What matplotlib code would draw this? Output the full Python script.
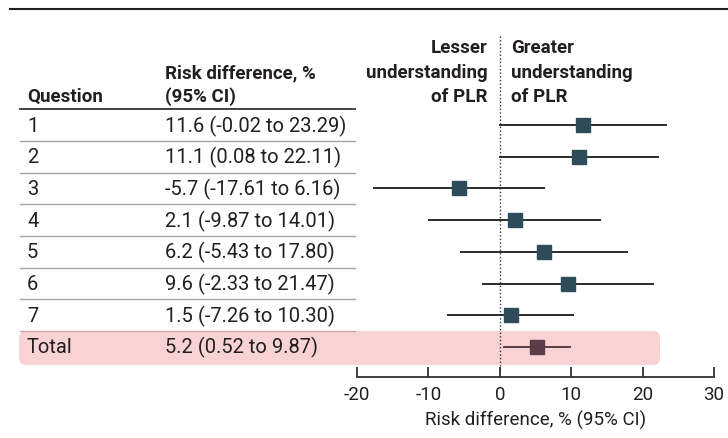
import matplotlib
matplotlib.use("Agg")
import matplotlib.pyplot as plt
from matplotlib.patches import FancyBboxPatch
from matplotlib.transforms import blended_transform_factory

plt.rcParams['font.family'] = ['Roboto', 'DejaVu Sans']

# --- data ---
questions = ['1', '2', '3', '4', '5', '6', '7', 'Total']
estimates = [11.6, 11.1, -5.7, 2.1, 6.2, 9.6, 1.5, 5.2]
lower = [-0.02, 0.08, -17.61, -9.87, -5.43, -2.33, -7.26, 0.52]
upper = [23.29, 22.11, 6.16, 14.01, 17.80, 21.47, 10.30, 9.87]
ci_labels = ['11.6 (-0.02 to 23.29)', '11.1 (0.08 to 22.11)', '-5.7 (-17.61 to 6.16)',
             '2.1 (-9.87 to 14.01)', '6.2 (-5.43 to 17.80)', '9.6 (-2.33 to 21.47)',
             '1.5 (-7.26 to 10.30)', '5.2 (0.52 to 9.87)']
xticks = [-20, -10, 0, 10, 20, 30]

W, H = 728, 439
fig = plt.figure(figsize=(W / 100, H / 100), dpi=100)

# axes placed so that -20..30 spans the plotted region
ax = fig.add_axes([357 / W, 1 - 378 / H, (714 - 357) / W, (378 - 30) / H])
row0, step = 126, 31.7
ax.set_ylim((378 - row0) / step, (30 - row0) / step)
ax.set_xlim(-20, 30)

text_c = '#231f20'
box_c = '#2e4b59'
tot_c = '#5c3c4a'
pink = '#f9d2d3'

# pink highlight row for total
n = len(questions)
ax.add_patch(FancyBboxPatch((19 / 100, (H - 366) / 100), (660 - 19) / 100, 34 / 100,
                            boxstyle='round,pad=0,rounding_size=0.07',
                            transform=fig.dpi_scale_trans, facecolor=pink,
                            edgecolor='none', zorder=0, clip_on=False))

for i in range(n):
    is_tot = questions[i] == 'Total'
    lc = '#5a4048' if is_tot else '#2b2b2b'
    mc = tot_c if is_tot else box_c
    ax.plot([lower[i], upper[i]], [i, i], color=lc, lw=1.4, zorder=3, clip_on=False)
    ax.plot(estimates[i], i, marker='s', ms=10, color=mc, zorder=4, clip_on=False)

# dotted zero line
ax.plot([0, 0], [-2.8, 7.7], color='#333333', lw=1, ls=(0, (1, 1.6)), zorder=2, clip_on=False)

for s in ['top', 'right', 'left']:
    ax.spines[s].set_visible(False)
ax.spines['bottom'].set_color('#333333')
ax.spines['bottom'].set_linewidth(1.3)
ax.set_yticks([])
ax.set_xticks(xticks)
ax.set_xticklabels([str(t) for t in xticks], fontsize=13.5, color=text_c)
ax.tick_params(axis='x', direction='in', length=7, width=1.3, color='#333333', pad=6)
ax.set_xlabel('Risk difference, % (95% CI)', fontsize=13.5, color=text_c, labelpad=5)
ax.patch.set_alpha(0)

# table on the left
tr = blended_transform_factory(fig.transFigure, ax.transData)
fs = 13.5
rfs = 14.5
for i in range(n):
    ax.text(27 / W, i, questions[i], transform=tr, fontsize=rfs, color=text_c, va='center')
    ax.text(165 / W, i, ci_labels[i], transform=tr, fontsize=rfs, color=text_c, va='center')
for i in range(n - 1):
    lcol = '#c9a3a6' if i == n - 2 else '#a8a8a8'
    ax.plot([20 / W, 355 / W], [i + 0.5, i + 0.5], transform=tr, color=lcol, lw=1,
            clip_on=False, zorder=1)
ax.plot([20 / W, 355 / W], [-0.5, -0.5], transform=tr, color='#333333', lw=1.3, clip_on=False)

# headers
hy = [-2.45, -1.67, -0.92]
ax.text(27 / W, hy[2], 'Question', transform=tr, fontsize=fs, fontweight='bold', color=text_c, va='center')
ax.text(165 / W, hy[1], 'Risk difference, %', transform=tr, fontsize=fs, fontweight='bold', color=text_c, va='center')
ax.text(165 / W, hy[2], '(95% CI)', transform=tr, fontsize=fs, fontweight='bold', color=text_c, va='center')
for j, t in enumerate(['Lesser', 'understanding', 'of PLR']):
    ax.text(488 / W, hy[j], t, transform=tr, fontsize=fs, fontweight='bold', color=text_c, va='center', ha='right')
for j, t in enumerate(['Greater', 'understanding', 'of PLR']):
    ax.text(511 / W, hy[j], t, transform=tr, fontsize=fs, fontweight='bold', color=text_c, va='center', ha='left')

# top rule
fig.add_artist(plt.Line2D([10 / W, 1], [1 - 10 / H, 1 - 10 / H], color='#222222', lw=1.5))

fig.savefig('out.png', dpi=100)
